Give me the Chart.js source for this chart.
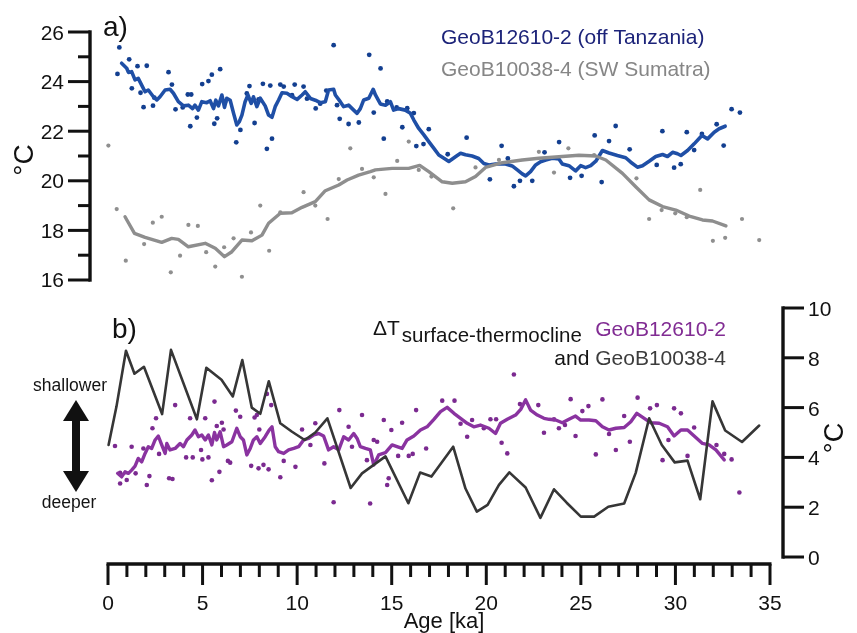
<!DOCTYPE html>
<html>
<head>
<meta charset="utf-8">
<script src="https://cdn.jsdelivr.net/npm/chart.js@4.4.1/dist/chart.umd.min.js"></script>
<style>
html,body{margin:0;padding:0;background:#fff;}
#wrap{position:relative;width:857px;height:633px;}
canvas{display:block;}
</style>
</head>
<body>
<div id="wrap"><canvas id="c" width="857" height="633"></canvas></div>
<script>
// ---------- DATA (age in ka, temperature in °C) ----------
// a) GeoB12610-2 (off Tanzania) – smoothed record
const tanzaniaSmooth = [[0.72,24.74],[0.99,24.54],[1.08,24.37],[1.25,24.4],[1.43,24.07],[1.6,24.13],[1.78,23.86],[1.96,23.59],[2.13,23.66],[2.4,23.39],[2.58,23.26],[2.75,23.39],[3.02,23.66],[3.28,23.69],[3.46,23.53],[3.72,23.19],[3.99,23.02],[4.25,23.05],[4.47,22.91],[4.6,23.05],[4.78,22.85],[4.96,23.19],[5.22,23.15],[5.4,23.23],[5.58,22.91],[5.7,23.25],[5.84,23.02],[6.02,23.46],[6.16,22.96],[6.28,23.33],[6.46,23.25],[6.64,22.72],[6.81,22.25],[6.94,22.38],[7.08,22.65],[7.25,23.19],[7.4,23.46],[7.57,23.12],[7.69,23.39],[7.87,22.99],[8.05,23.33],[8.31,23.02],[8.49,22.65],[8.67,22.56],[8.84,22.99],[9.02,23.26],[9.2,23.55],[9.46,23.53],[9.73,23.39],[10.0,23.28],[10.26,23.46],[10.43,23.59],[10.7,23.32],[10.96,23.25],[11.22,23.15],[11.49,23.19],[11.66,23.66],[11.93,23.69],[12.02,23.46],[12.28,23.19],[12.46,22.99],[12.72,23.05],[12.99,22.85],[13.17,22.72],[13.34,22.91],[13.52,23.26],[13.79,23.33],[14.02,23.69],[14.14,23.46],[14.4,23.1],[14.67,23.05],[14.93,23.19],[15.1,22.85],[15.37,22.91],[15.72,22.85],[15.99,22.72],[16.17,22.45],[16.43,22.11],[16.7,21.85],[16.96,21.58],[17.23,21.31],[17.49,21.04],[17.76,20.91],[18.02,20.78],[18.37,20.97],[18.64,21.11],[18.9,21.05],[19.25,21.0],[19.6,20.9],[19.87,20.7],[20.14,20.64],[20.49,20.68],[21.02,20.68],[21.37,20.6],[21.64,20.44],[21.9,20.28],[22.08,20.2],[22.34,20.37],[22.61,20.64],[22.87,20.77],[23.14,20.84],[23.49,20.91],[23.84,20.88],[24.02,20.68],[24.37,20.61],[24.72,20.4],[24.99,20.61],[25.25,20.53],[25.52,20.61],[25.79,20.79],[26.14,21.22],[26.49,21.12],[26.93,21.02],[27.37,20.93],[27.64,20.75],[27.99,20.55],[28.26,20.61],[28.61,20.79],[28.96,20.98],[29.32,21.06],[29.58,20.98],[29.85,21.15],[30.11,21.09],[30.29,21.02],[30.64,21.22],[30.99,21.49],[31.4,21.83],[31.7,21.69],[32.05,21.96],[32.31,22.1],[32.63,22.2]];
// a) GeoB12610-2 – individual samples
const tanzaniaSamples = [[0.6,25.38],[0.5,24.31],[1.12,24.9],[1.56,24.62],[2.05,24.64],[1.26,23.73],[1.72,23.55],[1.88,22.97],[2.38,23.03],[2.45,23.35],[3.2,24.38],[3.38,23.88],[3.57,22.88],[3.95,22.96],[4.22,23.48],[4.4,23.48],[4.35,22.2],[4.7,22.55],[4.98,23.9],[5.31,24.02],[5.49,24.28],[5.93,24.5],[5.62,22.3],[5.77,22.52],[6.19,23.18],[6.78,21.55],[7.0,22.05],[7.34,23.52],[7.48,23.82],[7.75,22.33],[7.96,23.28],[8.19,23.91],[8.4,21.29],[8.67,21.7],[8.58,23.84],[9.11,23.88],[9.29,23.8],[9.73,23.45],[9.87,23.88],[10.34,23.8],[10.52,23.31],[10.98,22.92],[11.22,23.11],[11.54,23.64],[11.93,25.47],[12.11,23.05],[12.25,22.5],[12.72,22.29],[13.26,22.35],[13.81,25.08],[14.05,22.75],[14.41,24.53],[14.58,21.7],[14.76,23.2],[15.26,22.96],[15.56,22.16],[15.82,22.93],[16.17,22.73],[16.3,21.4],[16.68,21.48],[16.96,22.08],[17.96,21.07],[18.96,21.74],[20.19,20.06],[20.81,21.41],[21.14,20.9],[21.46,19.78],[21.78,20.0],[22.43,20.0],[23.08,21.15],[23.85,21.56],[24.43,20.12],[25.04,20.2],[25.73,21.83],[26.1,19.95],[26.49,21.6],[26.84,22.21],[27.58,21.27],[29.01,20.64],[29.31,22.0],[29.93,20.53],[30.28,20.67],[30.6,21.96],[30.99,21.24],[31.4,21.89],[32.18,22.28],[32.55,21.42],[32.97,22.89],[33.41,22.75]];
// a) GeoB10038-4 (SW Sumatra) – smoothed record
const sumatraSmooth = [[0.9,18.55],[1.4,17.88],[1.96,17.72],[2.84,17.52],[3.37,17.68],[3.72,17.64],[4.25,17.34],[5.14,17.48],[5.67,17.28],[6.16,16.94],[6.55,17.14],[7.08,17.61],[7.61,17.58],[8.14,17.81],[8.49,18.29],[9.11,18.69],[9.72,18.71],[10.26,18.93],[10.96,19.16],[11.49,19.6],[12.2,19.83],[12.64,20.03],[13.25,20.23],[13.87,20.37],[14.14,20.44],[15.02,20.5],[15.9,20.5],[16.48,20.62],[16.96,20.37],[17.67,19.96],[18.2,19.9],[18.9,19.96],[19.43,20.17],[19.96,20.54],[20.85,20.73],[21.9,20.84],[22.78,20.91],[23.84,20.97],[24.9,21.03],[25.79,21.0],[26.32,20.84],[27.2,20.3],[27.9,19.76],[28.61,19.23],[29.32,18.96],[30.02,18.82],[30.73,18.58],[31.43,18.42],[31.96,18.38],[32.67,18.18]];
// a) GeoB10038-4 – individual samples
const sumatraSamples = [[0.02,21.42],[0.46,18.86],[0.94,16.78],[1.91,17.45],[2.37,18.31],[2.84,18.55],[3.32,16.31],[3.81,16.98],[4.25,18.22],[4.75,18.18],[5.19,17.12],[5.67,16.54],[6.14,17.32],[6.64,17.68],[7.08,16.13],[7.56,17.92],[8.05,19.0],[8.52,17.18],[9.11,18.73],[10.34,19.54],[10.96,19.0],[11.61,18.46],[12.2,20.07],[12.81,21.31],[13.43,20.48],[14.05,20.14],[14.67,19.47],[15.29,20.8],[15.9,21.58],[16.43,20.44],[17.1,20.17],[18.25,18.89],[19.43,20.54],[20.67,20.84],[22.78,21.17],[23.58,20.33],[24.34,21.31],[25.7,21.04],[27.94,20.1],[28.61,18.46],[29.27,18.82],[29.99,18.69],[30.6,18.53],[31.31,19.63],[31.98,17.58],[32.63,17.7],[33.52,18.46],[34.43,17.61]];

// b) ΔT surface-thermocline, GeoB12610-2 – smoothed record
const tanzaniaDeltaSmooth = [[0.51,3.36],[0.72,3.22],[0.9,3.42],[1.08,3.36],[1.25,3.49],[1.43,3.65],[1.6,3.96],[1.78,3.82],[1.96,4.16],[2.13,4.43],[2.31,4.36],[2.49,4.7],[2.66,4.86],[2.84,4.5],[3.02,4.16],[3.11,4.56],[3.28,4.3],[3.55,4.36],[3.81,4.56],[3.99,4.43],[4.17,4.7],[4.43,4.9],[4.6,5.1],[4.78,4.83],[4.96,4.9],[5.14,4.7],[5.31,4.9],[5.49,4.5],[5.63,5.0],[5.75,4.7],[5.93,5.03],[6.11,4.43],[6.28,4.5],[6.55,4.63],[6.81,5.17],[6.99,4.83],[7.16,4.7],[7.34,4.1],[7.52,4.36],[7.69,4.7],[7.87,4.83],[8.05,4.56],[8.31,4.83],[8.52,5.1],[8.67,5.23],[8.84,4.43],[9.02,4.23],[9.29,4.16],[9.55,4.3],[9.82,4.36],[10.08,4.43],[10.34,4.7],[10.61,4.76],[10.87,4.9],[11.14,4.96],[11.4,4.86],[11.66,4.3],[11.93,4.43],[12.2,4.3],[12.46,4.83],[12.72,4.7],[12.99,4.96],[13.17,4.76],[13.34,4.43],[13.61,4.36],[13.87,4.3],[14.05,3.69],[14.31,4.1],[14.67,4.19],[15.02,4.5],[15.28,4.43],[15.55,4.36],[15.81,4.7],[16.17,4.86],[16.52,5.1],[16.87,5.23],[17.23,5.53],[17.58,5.84],[17.93,6.01],[18.29,5.77],[18.64,5.57],[18.99,5.37],[19.34,5.23],[19.69,5.3],[20.14,5.17],[20.49,4.96],[20.75,5.37],[21.11,5.53],[21.55,5.7],[21.82,5.93],[22.08,6.31],[22.34,5.9],[22.7,5.7],[23.05,5.57],[23.32,5.53],[23.67,5.5],[24.02,5.39],[24.37,5.53],[24.72,5.66],[24.99,5.5],[25.43,5.5],[25.79,5.47],[26.14,5.23],[26.49,5.1],[26.85,5.17],[27.29,5.2],[27.64,5.43],[27.96,5.77],[28.35,5.57],[28.7,5.39],[29.14,5.37],[29.58,5.23],[29.93,4.86],[30.29,5.1],[30.64,5.1],[30.99,4.86],[31.43,4.56],[31.78,4.5],[32.14,4.3],[32.58,3.9]];
// b) ΔT GeoB12610-2 – individual samples
const tanzaniaDeltaSamples = [[0.37,4.46],[0.64,3.38],[0.64,2.95],[0.99,3.09],[1.25,4.43],[1.46,3.36],[1.87,4.36],[2.05,2.89],[2.19,3.25],[2.35,5.17],[2.54,5.57],[2.7,4.14],[3.23,3.16],[3.41,3.13],[3.55,6.1],[4.13,4.0],[4.34,5.57],[4.48,4.0],[4.92,4.3],[4.99,3.92],[5.14,5.57],[5.31,4.0],[5.49,3.08],[5.63,6.24],[5.75,5.26],[5.89,3.42],[6.02,5.39],[6.11,5.12],[6.34,3.86],[6.46,3.79],[6.76,5.88],[6.99,5.63],[7.57,3.66],[7.75,5.6],[7.87,5.7],[8.0,5.12],[7.96,3.56],[8.22,3.7],[8.49,3.52],[8.63,6.1],[8.4,6.55],[9.11,3.2],[9.29,3.86],[9.91,3.62],[10.26,5.12],[10.7,4.5],[10.96,5.37],[11.44,3.76],[11.93,2.2],[12.23,5.9],[12.72,5.23],[12.9,4.43],[13.43,5.7],[13.69,3.89],[13.86,2.15],[14.05,4.7],[14.23,4.63],[14.58,5.5],[14.76,2.89],[14.84,3.16],[14.98,5.1],[15.34,4.06],[15.55,5.39],[15.9,4.06],[16.11,4.14],[16.29,5.9],[16.82,4.36],[17.67,6.28],[18.32,6.28],[18.64,5.35],[18.99,4.83],[19.25,5.5],[19.87,5.17],[20.22,5.53],[20.52,5.53],[20.81,4.59],[21.11,4.16],[21.46,7.33],[21.78,6.14],[22.75,6.1],[23.05,4.99],[23.58,5.53],[23.84,5.17],[24.16,5.3],[24.46,6.34],[24.72,4.86],[25.08,5.86],[25.4,6.06],[25.79,4.12],[26.14,6.33],[26.49,4.94],[26.85,4.3],[27.29,5.66],[27.59,4.63],[28.0,6.4],[28.66,5.97],[29.02,6.1],[29.32,3.89],[29.63,4.7],[29.93,5.97],[30.29,5.77],[30.64,4.06],[30.99,5.2],[32.17,4.5],[32.58,4.14],[32.97,3.92],[33.38,2.59]];
// b) ΔT surface-thermocline, GeoB10038-4
const sumatraDelta = [[0.03,4.5],[0.45,6.05],[0.95,8.28],[1.4,7.36],[1.9,7.64],[2.86,5.74],[3.33,8.32],[4.7,5.53],[5.2,7.6],[6.0,7.12],[6.6,6.45],[7.1,7.91],[7.6,6.0],[8.05,5.75],[8.5,7.06],[9.11,5.37],[9.73,5.03],[10.4,4.7],[10.96,5.0],[11.6,5.57],[12.83,2.77],[13.43,3.36],[14.67,4.04],[15.88,2.16],[16.5,3.39],[17.1,3.23],[18.25,4.43],[18.9,2.75],[19.5,1.82],[20.07,2.09],[20.67,2.9],[21.22,3.4],[22.08,2.79],[22.86,1.57],[23.58,2.72],[24.25,2.18],[25.0,1.62],[25.7,1.62],[26.45,2.02],[27.29,2.15],[27.9,3.38],[28.61,5.57],[29.28,4.5],[29.96,3.8],[30.64,3.87],[31.31,2.32],[31.96,6.25],[32.63,5.08],[33.52,4.62],[34.43,5.28]];

// ---------- TICKS / LABELS ----------
const ageMajorTicks = [0,5,10,15,20,25,30,35];
const ageMinorTicks = [1,2,3,4,6,7,8,9,11,12,13,14,16,17,18,19,21,22,23,24,26,27,28,29,31,32,33,34];
const sstMajorTicks = [16,18,20,22,24,26];
const sstMinorTicks = [17,19,21,23,25];
const deltaTicks = [0,2,4,6,8,10];
const sstRange = [16,26];
const deltaRange = [0,10];

const FONT = '"Liberation Sans", Arial, sans-serif';
const toXY = a => a.map(p => ({x: p[0], y: p[1]}));

// Axis / annotation drawing, positioned through the chart's scales
const axesPlugin = {
  id: 'axesPlugin',
  afterDraw(chart) {
    const c = chart.ctx;
    const xs = chart.scales.x, ya = chart.scales.yA, yb = chart.scales.yB;
    const L = (x1, y1, x2, y2) => { c.beginPath(); c.moveTo(x1, y1); c.lineTo(x2, y2); c.stroke(); };
    c.save();
    c.strokeStyle = '#111'; c.fillStyle = '#111'; c.lineCap = 'butt';

    // ---- left SST axis (panel a)
    const axA = xs.left - 18;
    c.lineWidth = 3.4;
    L(axA, ya.getPixelForValue(sstRange[1]) - 1.7, axA, ya.getPixelForValue(sstRange[0]) + 1.7);
    c.lineWidth = 3;
    sstMajorTicks.forEach(v => { const p = ya.getPixelForValue(v); L(axA - 22, p, axA, p); });
    sstMinorTicks.forEach(v => { const p = ya.getPixelForValue(v); L(axA - 12, p, axA, p); });
    c.font = '21px ' + FONT; c.textAlign = 'right'; c.textBaseline = 'alphabetic';
    sstMajorTicks.forEach(v => c.fillText(String(v), axA - 26, ya.getPixelForValue(v) + 7.5));

    // ---- right ΔT axis (panel b)
    const axB = xs.right + 13;
    c.lineWidth = 3.4;
    L(axB, yb.getPixelForValue(deltaRange[1]) - 1.7, axB, yb.getPixelForValue(deltaRange[0]) + 1.7);
    c.lineWidth = 3;
    deltaTicks.forEach(v => { const p = yb.getPixelForValue(v); L(axB, p, axB + 21, p); });
    c.textAlign = 'left';
    deltaTicks.forEach(v => c.fillText(String(v), axB + 25, yb.getPixelForValue(v) + 8));

    // ---- age axis
    const axX = yb.getPixelForValue(deltaRange[0]) + 7;
    c.lineWidth = 3.4;
    L(xs.getPixelForValue(0) - 1.5, axX, xs.getPixelForValue(35) + 1.5, axX);
    c.lineWidth = 3;
    ageMajorTicks.forEach(v => { const p = xs.getPixelForValue(v); L(p, axX, p, axX + 21); });
    ageMinorTicks.forEach(v => { const p = xs.getPixelForValue(v); L(p, axX, p, axX + 13); });
    c.textAlign = 'center';
    ageMajorTicks.forEach(v => c.fillText(String(v), xs.getPixelForValue(v), axX + 46));
    c.font = '22px ' + FONT;
    c.fillText('Age [ka]', 444, 628);

    // ---- axis titles (°C)
    c.font = '28px ' + FONT; c.textAlign = 'center'; c.textBaseline = 'middle';
    c.save(); c.translate(25, 160); c.rotate(-Math.PI / 2); c.fillText('°C', 0, 0); c.restore();
    c.font = '27px ' + FONT;
    c.save(); c.translate(836, 438); c.rotate(-Math.PI / 2); c.fillText('°C', 0, 0); c.restore();

    // ---- panel labels
    c.textBaseline = 'alphabetic'; c.textAlign = 'left';
    c.font = '28px ' + FONT;
    c.fillText('a)', 103, 36);
    c.fillText('b)', 112, 338);

    // ---- legend panel a
    c.font = '21px ' + FONT;
    c.fillStyle = '#1c2379'; c.fillText('GeoB12610-2 (off Tanzania)', 441, 44);
    c.fillStyle = '#868686'; c.fillText('GeoB10038-4 (SW Sumatra)', 441, 76);

    // ---- legend panel b
    c.fillStyle = '#141414';
    c.fillText('ΔT', 373, 335);
    const wdt = c.measureText('ΔT').width;
    c.font = '20.5px ' + FONT;
    c.fillText('surface-thermocline', 373 + wdt + 2, 342);
    c.font = '21px ' + FONT; c.textAlign = 'right';
    c.fillStyle = '#812c93'; c.fillText('GeoB12610-2', 726, 336);
    c.fillStyle = '#3c3c3c'; c.fillText('GeoB10038-4', 726, 365);
    const wg = c.measureText('GeoB10038-4').width;
    c.fillStyle = '#141414'; c.fillText('and ', 726 - wg, 365);

    // ---- shallower / deeper arrow
    c.textAlign = 'center';
    c.font = '17.5px ' + FONT;
    c.fillText('shallower', 70, 391);
    c.fillText('deeper', 69, 508);
    c.fillStyle = '#111';
    c.fillRect(72, 416, 8, 60);
    c.beginPath(); c.moveTo(76, 400); c.lineTo(89, 421); c.lineTo(63, 421); c.closePath(); c.fill();
    c.beginPath(); c.moveTo(76, 492); c.lineTo(89, 471); c.lineTo(63, 471); c.closePath(); c.fill();
    c.restore();
  }
};

new Chart(document.getElementById('c'), {
  type: 'scatter',
  data: {
    datasets: [
      { label: 'ΔT GeoB10038-4', data: toXY(sumatraDelta), yAxisID: 'yB', showLine: true,
        borderColor: '#363636', borderWidth: 2.6, pointRadius: 0, order: 1, clip: false },
      { label: 'ΔT GeoB12610-2 (smoothed)', data: toXY(tanzaniaDeltaSmooth), yAxisID: 'yB', showLine: true,
        borderColor: '#8a33a0', borderWidth: 3.4, pointRadius: 0, order: 2, clip: false },
      { label: 'ΔT GeoB12610-2 (samples)', data: toXY(tanzaniaDeltaSamples), yAxisID: 'yB', showLine: false,
        pointRadius: 2.3, pointBorderWidth: 0, backgroundColor: '#7b2a90', borderColor: '#7b2a90', order: 3, clip: false },
      { label: 'GeoB10038-4 (SW Sumatra)', data: toXY(sumatraSmooth), yAxisID: 'yA', showLine: true,
        borderColor: '#8e8e8e', borderWidth: 3.4, pointRadius: 0, order: 4, clip: false },
      { label: 'GeoB12610-2 (off Tanzania)', data: toXY(tanzaniaSmooth), yAxisID: 'yA', showLine: true,
        borderColor: '#1f4fa6', borderWidth: 3.6, pointRadius: 0, order: 5, clip: false },
      { label: 'GeoB10038-4 samples', data: toXY(sumatraSamples), yAxisID: 'yA', showLine: false,
        pointRadius: 2.1, pointBorderWidth: 0, backgroundColor: '#8f8f8f', borderColor: '#8f8f8f', order: 6, clip: false },
      { label: 'GeoB12610-2 samples', data: toXY(tanzaniaSamples), yAxisID: 'yA', showLine: false,
        pointRadius: 2.4, pointBorderWidth: 0, backgroundColor: '#133f90', borderColor: '#133f90', order: 7, clip: false }
    ]
  },
  options: {
    responsive: false,
    animation: false,
    devicePixelRatio: 1,
    events: [],
    layout: { padding: { left: 108, right: 87, top: 32, bottom: 75 } },
    elements: { line: { tension: 0, borderJoinStyle: 'round', borderCapStyle: 'round' } },
    plugins: { legend: { display: false }, tooltip: { enabled: false } },
    scales: {
      x:  { type: 'linear', min: 0, max: 35, display: false },
      yA: { type: 'linear', position: 'left', min: 4.79, max: 26, display: false },
      yB: { type: 'linear', position: 'right', min: -0.04, max: 21.084, display: false }
    }
  },
  plugins: [axesPlugin]
});
</script>
</body>
</html>
